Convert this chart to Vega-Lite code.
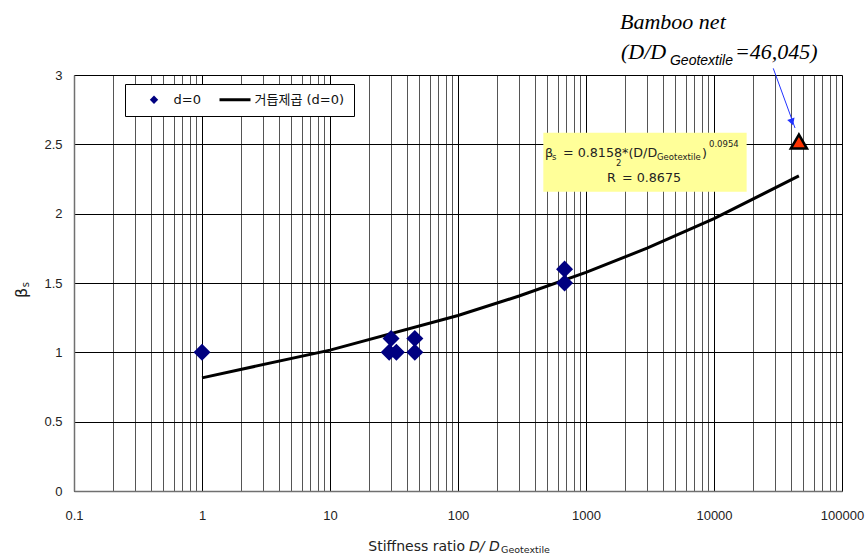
{
  "$schema": "https://vega.github.io/schema/vega-lite/v6.json",
  "width": 768,
  "height": 416,
  "autosize": {"type": "none"},
  "padding": {"left": 74, "top": 75, "right": 23, "bottom": 68},
  "background": "white",
  "config": {"view": {"stroke": null}, "font": "DejaVu Sans"},
  "encoding": {
    "x": {
      "field": "x", "type": "quantitative",
      "scale": {"type": "log", "domain": [0.1, 100000], "nice": false},
      "axis": {
        "values": [0.1,0.2,0.3,0.4,0.5,0.6,0.7,0.8,0.9,1,2,3,4,5,6,7,8,9,10,20,30,40,50,60,70,80,90,100,200,300,400,500,600,700,800,900,1000,2000,3000,4000,5000,6000,7000,8000,9000,10000,20000,30000,40000,50000,60000,70000,80000,90000,100000],
        "grid": true,
        "gridColor": {"condition": {"test": "abs(log(datum.value)/LN10 - round(log(datum.value)/LN10)) < 1e-6", "value": "#000000"}, "value": "#555555"},
        "gridWidth": 1,
        "gridOpacity": 1,
        "ticks": false,
        "domainColor": "#707070",
        "domainWidth": 1.5,
        "labelExpr": "abs(log(datum.value)/LN10 - round(log(datum.value)/LN10)) < 1e-6 ? format(datum.value, '~g') : ''",
        "labelFont": "Liberation Sans",
        "labelFontSize": 13,
        "labelColor": "#222222",
        "labelPadding": 18,
        "labelFlush": false,
        "labelOverlap": false,
        "title": null
      }
    },
    "y": {
      "field": "y", "type": "quantitative",
      "scale": {"domain": [0, 3], "nice": false},
      "axis": {
        "values": [0, 0.5, 1, 1.5, 2, 2.5, 3],
        "grid": true,
        "gridColor": "#000000",
        "gridOpacity": 1,
        "ticks": false,
        "domainColor": "#707070",
        "domainWidth": 1.5,
        "format": "~g",
        "labelFont": "Liberation Sans",
        "labelFontSize": 13,
        "labelColor": "#222222",
        "labelPadding": 12,
        "title": null
      }
    }
  },
  "layer": [
    {
      "data": {"values": [{"x": 464, "x2": 17990, "y": 2.584, "y2": 2.158}]},
      "mark": {"type": "rect", "fill": "#FFFF99", "stroke": null},
      "encoding": {"x2": {"field": "x2"}, "y2": {"field": "y2"}}
    },
    {
      "data": {"values": [
        {"x": 1, "y": 0.816, "series": "거듭제곱 (d=0)"},
        {"x": 10, "y": 1.016, "series": "거듭제곱 (d=0)"},
        {"x": 100, "y": 1.266, "series": "거듭제곱 (d=0)"},
        {"x": 300, "y": 1.406, "series": "거듭제곱 (d=0)"},
        {"x": 1000, "y": 1.577, "series": "거듭제곱 (d=0)"},
        {"x": 3000, "y": 1.751, "series": "거듭제곱 (d=0)"},
        {"x": 10000, "y": 1.964, "series": "거듭제곱 (d=0)"},
        {"x": 46045, "y": 2.272, "series": "거듭제곱 (d=0)"}
      ]},
      "mark": {"type": "line", "strokeWidth": 3},
      "encoding": {
        "color": {
          "field": "series", "type": "nominal",
          "scale": {"domain": ["d=0", "거듭제곱 (d=0)"], "range": ["#000080", "#000000"]},
          "legend": {
            "orient": "none", "legendX": 51, "legendY": 9,
            "direction": "horizontal", "title": null,
            "strokeColor": "#000000", "fillColor": "#ffffff",
            "padding": 9, "symbolSize": 961, "columnPadding": 12,
            "symbolOffset": 13.5, "labelOffset": 13,
            "labelFont": "DejaVu Sans, Noto Sans CJK KR",
            "labelFontSize": 13, "labelColor": "#111111",
            "encode": {"symbols": {"update": {
              "shape": {"signal": "datum.value === 'd=0' ? 'M-0.27,0L0,-0.27L0.27,0L0,0.27Z' : 'stroke'"},
              "size": {"value": 961},
              "fill": {"signal": "datum.value === 'd=0' ? '#000080' : 'transparent'"},
              "stroke": {"signal": "datum.value === 'd=0' ? 'transparent' : '#000000'"},
              "strokeWidth": {"signal": "datum.value === 'd=0' ? 0 : 3"},
              "opacity": {"value": 1}
            }}}
          }
        }
      }
    },
    {
      "data": {"values": [
        {"x": 1, "y": 1.0, "series": "d=0"},
        {"x": 30, "y": 1.1, "series": "d=0"},
        {"x": 29, "y": 1.0, "series": "d=0"},
        {"x": 33, "y": 1.0, "series": "d=0"},
        {"x": 46, "y": 1.1, "series": "d=0"},
        {"x": 46, "y": 1.0, "series": "d=0"},
        {"x": 680, "y": 1.6, "series": "d=0"},
        {"x": 680, "y": 1.5, "series": "d=0"}
      ]},
      "mark": {"type": "point", "shape": "diamond", "filled": true, "size": 290, "opacity": 1},
      "encoding": {"color": {"field": "series", "type": "nominal"}}
    },
    {
      "data": {"values": [{"x": 46045, "y": 2.52}]},
      "mark": {"type": "point", "shape": "triangle-up", "filled": true, "fill": "#FF3300", "stroke": "#000000", "strokeWidth": 2.5, "size": 260, "opacity": 1}
    },
    {
      "data": {"values": [{"x": 29040, "y": 3.048, "x2": 42950, "y2": 2.618}]},
      "mark": {"type": "rule", "color": "#2233ff", "strokeWidth": 1},
      "encoding": {"x2": {"field": "x2"}, "y2": {"field": "y2"}}
    },
    {
      "data": {"values": [{"x": 40640, "y": 2.661}]},
      "mark": {"type": "point", "shape": "triangle-down", "filled": true, "color": "#2233ff", "size": 60, "angle": 341, "opacity": 1}
    },
    {
      "data": {"values": [
        {"x": 1845, "y": 3.382, "t": "Bamboo net"},
        {"x": 1875, "y": 3.166, "t": "(D/D"},
        {"x": 14590, "y": 3.166, "t": "=46,045)"}
      ]},
      "mark": {"type": "text", "font": "Liberation Serif", "fontStyle": "italic", "fontSize": 22, "align": "left", "baseline": "middle", "color": "#000000"},
      "encoding": {"text": {"field": "t"}}
    },
    {
      "data": {"values": [{"x": 4530, "y": 3.101, "t": "Geotextile"}]},
      "mark": {"type": "text", "font": "Liberation Sans", "fontStyle": "italic", "fontSize": 14, "align": "left", "baseline": "middle", "color": "#000000"},
      "encoding": {"text": {"field": "t"}}
    },
    {
      "data": {"values": [
        {"x": 478.6, "y": 2.437, "t": "β"},
        {"x": 661, "y": 2.437, "t": "= 0.8158*(D/D"},
        {"x": 8057, "y": 2.437, "t": ")"},
        {"x": 1459, "y": 2.257, "t": "R"},
        {"x": 1911, "y": 2.257, "t": "= 0.8675"}
      ]},
      "mark": {"type": "text", "font": "DejaVu Sans", "fontSize": 12.7, "align": "left", "baseline": "middle", "color": "#222222"},
      "encoding": {"text": {"field": "t"}}
    },
    {
      "data": {"values": [
        {"x": 542, "y": 2.409, "t": "s"},
        {"x": 3589, "y": 2.409, "t": "Geotextile"},
        {"x": 9141, "y": 2.505, "t": "0.0954"},
        {"x": 1715, "y": 2.362, "t": "2"}
      ]},
      "mark": {"type": "text", "font": "DejaVu Sans", "fontSize": 8.5, "align": "left", "baseline": "middle", "color": "#222222"},
      "encoding": {"text": {"field": "t"}}
    },
    {
      "data": {"values": [{"x": 113.4, "y": -0.404, "t": "Stiffness ratio"}]},
      "mark": {"type": "text", "font": "DejaVu Sans", "fontSize": 14, "align": "right", "baseline": "middle", "color": "#222222"},
      "encoding": {"text": {"field": "t"}}
    },
    {
      "data": {"values": [{"x": 121.9, "y": -0.404, "t": "D/ D"}]},
      "mark": {"type": "text", "font": "DejaVu Sans", "fontStyle": "italic", "fontSize": 14, "align": "left", "baseline": "middle", "color": "#222222"},
      "encoding": {"text": {"field": "t"}}
    },
    {
      "data": {"values": [{"x": 216.8, "y": -0.4255, "t": "Geotextile"}]},
      "mark": {"type": "text", "font": "DejaVu Sans", "fontSize": 9.5, "align": "left", "baseline": "middle", "color": "#222222"},
      "encoding": {"text": {"field": "t"}}
    },
    {
      "data": {"values": [{"x": 0.0393, "y": 1.428, "t": "β"}]},
      "mark": {"type": "text", "font": "DejaVu Sans", "fontSize": 16, "angle": 270, "align": "center", "baseline": "middle", "color": "#222222"},
      "encoding": {"text": {"field": "t"}}
    },
    {
      "data": {"values": [{"x": 0.0422, "y": 1.488, "t": "s"}]},
      "mark": {"type": "text", "font": "DejaVu Sans", "fontSize": 10, "angle": 270, "align": "center", "baseline": "middle", "color": "#222222"},
      "encoding": {"text": {"field": "t"}}
    }
  ]
}
